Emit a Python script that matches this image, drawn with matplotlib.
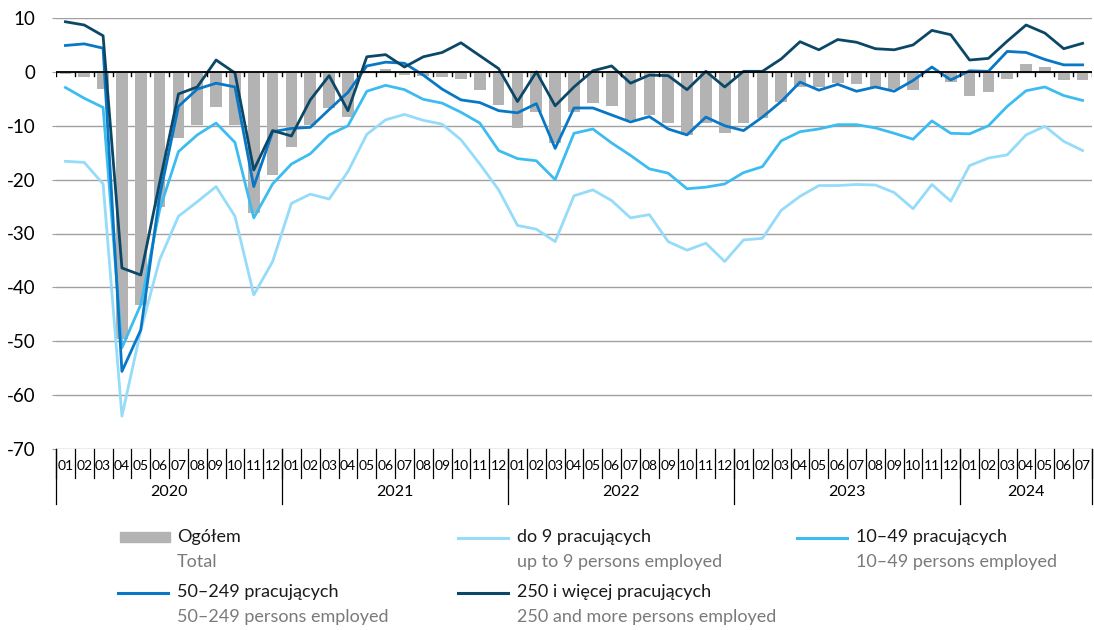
import matplotlib.pyplot as plt
from matplotlib.lines import Line2D
from matplotlib.patches import Rectangle

plt.rcParams['font.family'] = ['Lato', 'DejaVu Sans']
plt.rcParams['axes.unicode_minus'] = False

# months 2020-01 .. 2024-07
years = ["2020", "2021", "2022", "2023", "2024"]
months_per_year = [12, 12, 12, 12, 7]
month_labels = [f"{m:02d}" for n in months_per_year for m in range(1, n + 1)]

total = [-0.4, -0.9, -3.2, -49.6, -43.2, -25.1, -12.2, -9.8, -6.6, -9.8, -26.2, -19.1,
         -13.9, -9.8, -6.7, -8.3, -0.3, 0.5, -0.6, -0.7, -1.0, -1.3, -3.3, -6.2,
         -10.5, -7.5, -13.2, -7.5, -5.7, -6.3, -8.9, -8.0, -9.5, -11.7, -9.5, -11.4,
         -9.4, -8.6, -5.5, -2.8, -2.8, -2.0, -2.3, -2.8, -3.2, -3.3, 0.0, -1.9,
         -4.5, -3.8, -1.3, 1.4, 0.9, -1.5, -1.5]

up_to_9 = [-16.6, -16.8, -20.8, -63.9, -48.0, -34.9, -26.8, -24.1, -21.3, -26.8, -41.4, -35.2,
           -24.4, -22.7, -23.6, -18.5, -11.6, -8.9, -7.9, -9.0, -9.7, -12.6, -17.1, -21.9,
           -28.5, -29.2, -31.5, -23.0, -21.9, -23.9, -27.1, -26.5, -31.5, -33.1, -31.8, -35.2,
           -31.2, -30.9, -25.7, -23.1, -21.1, -21.1, -20.9, -21.0, -22.4, -25.4, -20.9, -24.0,
           -17.4, -16.0, -15.4, -11.7, -10.1, -12.9, -14.6]

p10_49 = [-2.9, -4.9, -6.6, -51.2, -43.2, -25.6, -14.8, -11.7, -9.5, -13.1, -27.1, -20.8,
          -17.1, -15.2, -11.7, -10.0, -3.6, -2.5, -3.3, -5.1, -5.8, -7.5, -9.5, -14.6,
          -16.1, -16.5, -20.0, -11.4, -10.6, -13.2, -15.5, -18.0, -18.8, -21.7, -21.4, -20.8,
          -18.7, -17.6, -12.8, -11.1, -10.6, -9.8, -9.8, -10.4, -11.4, -12.5, -9.1, -11.4,
          -11.5, -10.0, -6.4, -3.5, -2.8, -4.4, -5.3]

p50_249 = [4.9, 5.2, 4.4, -55.6, -47.9, -23.1, -6.4, -3.2, -2.1, -2.8, -21.3, -11.1,
           -10.5, -10.3, -7.0, -3.8, 1.1, 1.8, 1.6, -0.6, -3.2, -5.2, -5.7, -7.2,
           -7.6, -5.9, -14.2, -6.7, -6.7, -8.0, -9.3, -8.3, -10.6, -11.7, -8.4, -10.0,
           -10.9, -8.4, -5.5, -1.9, -3.4, -2.3, -3.6, -2.8, -3.6, -1.6, 0.9, -1.5,
           0.2, 0.1, 3.8, 3.6, 2.3, 1.3, 1.3]

p250 = [9.3, 8.7, 6.7, -36.4, -37.7, -20.6, -4.1, -2.8, 2.2, -0.2, -18.2, -10.9,
        -11.9, -5.2, -0.7, -7.2, 2.8, 3.2, 0.9, 2.8, 3.6, 5.4, 3.0, 0.6,
        -5.5, 0.0, -6.3, -2.8, 0.2, 1.1, -2.1, -0.6, -0.7, -3.3, 0.1, -2.8,
        0.1, 0.1, 2.4, 5.6, 4.1, 6.0, 5.5, 4.3, 4.1, 5.0, 7.7, 6.9,
        2.2, 2.5, 5.7, 8.7, 7.2, 4.3, 5.3]

c_bar = '#b3b3b3'
c_9 = '#95dbfa'
c_10 = '#3dbcf0'
c_50 = '#0878c6'
c_250 = '#0b4868'

fig = plt.figure(figsize=(10.94, 6.3), dpi=100)
ax = fig.add_axes([56 / 1094, 1 - 449 / 630, 1036 / 1094, 431 / 630])

x = list(range(len(month_labels)))
ax.bar(x, total, width=0.62, color=c_bar, zorder=2)
ax.plot(x, up_to_9, color=c_9, lw=2.0, zorder=3)
ax.plot(x, p10_49, color=c_10, lw=2.0, zorder=4)
ax.plot(x, p50_249, color=c_50, lw=2.0, zorder=5)
ax.plot(x, p250, color=c_250, lw=2.0, zorder=6)

ax.set_xlim(-0.5, len(x) - 0.5)
ax.set_ylim(-70, 10)
ax.set_yticks(range(-70, 11, 10))
ax.yaxis.grid(True, color='#a0a0a0', lw=1.0, zorder=1)
ax.set_axisbelow(True)
ax.tick_params(axis='y', length=3, color='#a0a0a0', pad=12, labelsize=13.5)
ax.set_xticks([])
for s in ax.spines.values():
    s.set_visible(False)

# zero line with small ticks at month boundaries
ax.axhline(0, color='black', lw=1.3, zorder=7)
for i in range(len(x) + 1):
    ax.plot([i - 0.5, i - 0.5], [0, -0.75], color='black', lw=1.0, zorder=7)

# month / year axis boxes below the plot
y_top = -70
y_mon = -75.3
y_year = -80.2
for i in range(len(x) + 1):
    ax.plot([i - 0.5, i - 0.5], [y_top, y_mon], color='black', lw=0.9, clip_on=False)
for i, lab in enumerate(month_labels):
    ax.text(i, -73.1, lab, ha='center', va='center', fontsize=10, clip_on=False)
start = 0
for yr, n in zip(years, months_per_year):
    ax.plot([start - 0.5, start - 0.5], [y_top, y_year], color='black', lw=0.9, clip_on=False)
    ax.text(start + n / 2 - 0.5, -78.0, yr, ha='center', va='center', fontsize=11.5, clip_on=False)
    start += n
ax.plot([start - 0.5, start - 0.5], [y_top, y_year], color='black', lw=0.9, clip_on=False)

# legend
W, H = 1094, 630
def fx(px):
    return px / W
def fy(py):
    return 1 - py / H

legend_items = [
    ('bar', c_bar, 'Ogółem', 'Total', 118, 537),
    ('line', c_9, 'do 9 pracujących', 'up to 9 persons employed', 458, 537),
    ('line', c_10, '10–49 pracujących', '10–49 persons employed', 797, 537),
    ('line', c_50, '50–249 pracujących', '50–249 persons employed', 118, 592),
    ('line', c_250, '250 i więcej pracujących', '250 and more persons employed', 458, 592),
]
for kind, col, pl, en, px, py in legend_items:
    if kind == 'bar':
        fig.add_artist(Rectangle((fx(px + 2), fy(py + 5)), fx(50), 10 / H, color=col,
                                 transform=fig.transFigure))
    else:
        fig.add_artist(Line2D([fx(px), fx(px + 50)], [fy(py + 1), fy(py + 1)], color=col, lw=2.2,
                              transform=fig.transFigure))
    fig.text(fx(px + 59), fy(py), pl, ha='left', va='center', fontsize=13, color='#1a1a1a')
    fig.text(fx(px + 59), fy(py + 25), en, ha='left', va='center', fontsize=13, color='#7a7a7a')

fig.savefig('out.png', dpi=100)
